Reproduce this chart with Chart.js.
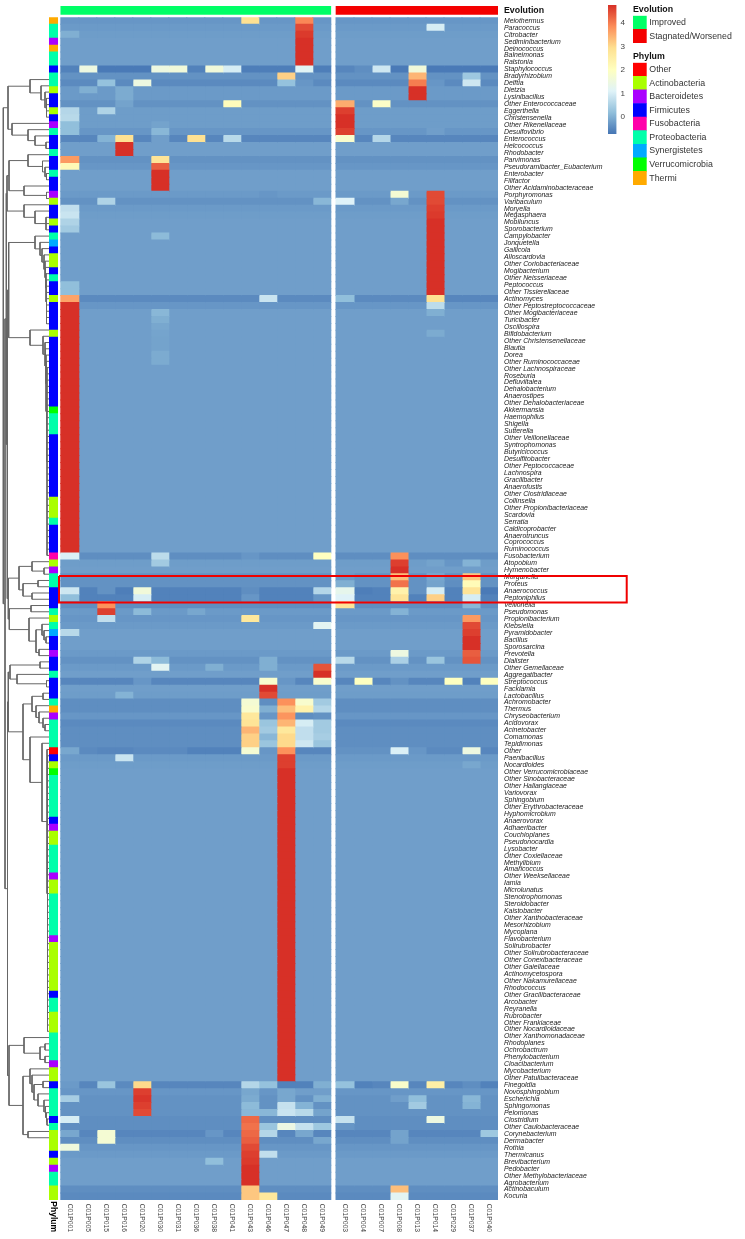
<!DOCTYPE html>
<html>
<head>
<meta charset="utf-8">
<title>Genus heatmap</title>
<script src="https://cdn.jsdelivr.net/npm/chart.js@4"></script>
<style>
  html, body { margin: 0; padding: 0; background: #fff; }
  canvas { position: absolute; display: block; }
</style>
</head>
<body>
<canvas id="main" width="745" height="1239" style="left:0;top:0"></canvas>
<canvas id="evolution" width="745" height="17" style="left:0;top:0"></canvas>
<canvas id="scale" width="48" height="145" style="left:596px;top:0"></canvas>
<canvas id="legend-evolution" width="112" height="39" style="left:633px;top:4px"></canvas>
<canvas id="legend-phylum" width="112" height="134" style="left:633px;top:51px"></canvas>
<script>
/* ---- Data ---- */
const samplesImproved = ['C01P001','C01P005','C01P015','C01P016','C01P020','C01P030','C01P031','C01P036','C01P038','C01P041','C01P043','C01P046','C01P047','C01P048','C01P049'];
const samplesWorsened = ['C01P003','C01P004','C01P007','C01P008','C01P013','C01P014','C01P029','C01P037','C01P040'];

const genera = [
  'Meiothermus','Paracoccus','Citrobacter','Sediminibacterium','Deinococcus','Balneimonas','Ralstonia','Staphylococcus','Bradyrhizobium','Delftia',
  'Dietzia','Lysinibacillus','Other Enterococcaceae','Eggerthella','Christensenella','Other Rikenellaceae','Desulfovibrio','Enterococcus','Helcococcus','Rhodobacter',
  'Parvimonas','Pseudoramibacter_Eubacterium','Enterobacter','Filifactor','Other Acidaminobacteraceae','Porphyromonas','Varibaculum','Moryella','Megasphaera','Mobiluncus',
  'Sporobacterium','Campylobacter','Jonquetella','Gallicola','Alloscardovia','Other Coriobacteriaceae','Mogibacterium','Other Neisseriaceae','Peptococcus','Other Tissierellaceae',
  'Actinomyces','Other Peptostreptococcaceae','Other Mogibacteriaceae','Turicibacter','Oscillospira','Bifidobacterium','Other Christensenellaceae','Blautia','Dorea','Other Ruminococcaceae',
  'Other Lachnospiraceae','Roseburia','Defluviitalea','Dehalobacterium','Anaerostipes','Other Dehalobacteriaceae','Akkermansia','Haemophilus','Shigella','Sutterella',
  'Other Veillonellaceae','Syntrophomonas','Butyricicoccus','Desulfitobacter','Other Peptococcaceae','Lachnospira','Gracilibacter','Anaerofustis','Other Clostridiaceae','Collinsella',
  'Other Propionibacteriaceae','Scardovia','Serratia','Caldicoprobacter','Anaerotruncus','Coprococcus','Ruminococcus','Fusobacterium','Atopobium','Hymenobacter',
  'Morganella','Proteus','Anaerococcus','Peptoniphilus','Veillonella','Pseudomonas','Propionibacterium','Klebsiella','Pyramidobacter','Bacillus',
  'Sporosarcina','Prevotella','Dialister','Other Gemellaceae','Aggregatibacter','Streptococcus','Facklamia','Lactobacillus','Achromobacter','Thermus',
  'Chryseobacterium','Acidovorax','Acinetobacter','Comamonas','Tepidimonas','Other','Paenibacillus','Nocardioides','Other Verrucomicrobiaceae','Other Sinobacteraceae',
  'Other Haliangiaceae','Variovorax','Sphingobium','Other Erythrobacteraceae','Hyphomicrobium','Anaerovorax','Adhaeribacter','Couchioplanes','Pseudonocardia','Lysobacter',
  'Other Coxiellaceae','Methylibium','Amaricoccus','Other Weeksellaceae','Iamia','Microlunatus','Stenotrophomonas','Steroidobacter','Kaistobacter','Other Xanthobacteraceae',
  'Mesorhizobium','Mycoplana','Flavobacterium','Solirubrobacter','Other Solirubrobacteraceae','Other Conexibacteraceae','Other Gaiellaceae','Actinomycetospora','Other Nakamurellaceae','Rhodococcus',
  'Other Gracilibacteraceae','Arcobacter','Reyranella','Rubrobacter','Other Frankiaceae','Other Nocardioidaceae','Other Xanthomonadaceae','Rhodoplanes','Ochrobactrum','Phenylobacterium',
  'Cloacibacterium','Mycobacterium','Other Patulibacteraceae','Finegoldia','Novosphingobium','Escherichia','Sphingomonas','Pelomonas','Clostridium','Other Caulobacteraceae',
  'Corynebacterium','Dermabacter','Rothia','Thermicanus','Brevibacterium','Pedobacter','Other Methylobacteriaceae','Agrobacterium','Actinobaculum','Kocuria',
];

// background z-score of each row
const rowBase = [
  -.3,-.25,-.22,-.2,-.2,-.2,-.2,-.6,-.35,-.45,
  -.25,-.25,-.35,-.22,-.22,-.22,-.3,-.5,-.2,-.2,
  -.35,-.3,-.2,-.2,-.2,-.25,-.35,-.25,-.22,-.2,
  -.2,-.2,-.2,-.2,-.2,-.2,-.2,-.2,-.2,-.2,
  -.45,-.3,-.2,-.2,-.2,-.2,-.2,-.2,-.2,-.2,
  -.2,-.2,-.2,-.2,-.2,-.2,-.2,-.2,-.2,-.2,
  -.2,-.2,-.2,-.2,-.2,-.2,-.2,-.2,-.2,-.2,
  -.2,-.2,-.2,-.2,-.2,-.2,-.2,-.4,-.22,-.2,
  -.35,-.35,-.55,-.55,-.4,-.25,-.3,-.25,-.2,-.2,
  -.2,-.25,-.35,-.25,-.2,-.5,-.2,-.22,-.4,-.4,
  -.3,-.45,-.4,-.4,-.4,-.45,-.25,-.22,-.2,-.2,
  -.2,-.2,-.2,-.2,-.2,-.2,-.2,-.2,-.2,-.2,
  -.2,-.2,-.2,-.2,-.2,-.2,-.2,-.2,-.2,-.2,
  -.2,-.2,-.2,-.2,-.2,-.2,-.2,-.2,-.2,-.2,
  -.2,-.2,-.2,-.2,-.2,-.2,-.2,-.2,-.2,-.2,
  -.2,-.2,-.2,-.5,-.3,-.35,-.35,-.35,-.4,-.4,
  -.5,-.4,-.3,-.25,-.2,-.2,-.2,-.2,-.4,-.45,
];

// blocks of rows that sit at the top of the scale: [first row, last row, column]
const saturatedBlocks = [
  [3,6,13],[10,11,19],[14,15,15],[18,19,3],[22,24,5],[29,39,20],[41,76,0],
  [79,79,18],[89,90,22],[94,94,14],[96,96,11],[108,152,12],[165,167,10],
];
const saturatedValue = 4.75;

// every other cell that differs from its row background: [row, column, value]
const cellValues = [
  [0,10,2.9],[0,13,3.9],[1,13,4.5],[1,20,1],[2,0,0],[2,13,4.65],
  [7,0,-.55],[7,1,1.5],[7,2,-.65],[7,3,-.65],[7,4,-.65],[7,5,1.5],[7,6,1.6],[7,7,-.55],[7,8,1.6],[7,9,1],[7,13,1.15],[7,15,-.5],[7,16,-.4],[7,17,.9],[7,18,-.65],[7,19,1.6],[7,20,-.65],[7,21,-.65],[7,22,-.65],[7,23,-.65],
  [8,12,3.1],[8,19,3.4],[8,22,.35],
  [9,2,.25],[9,4,1.5],[9,12,.25],[9,13,-.3],[9,19,4],[9,20,-.3],[9,22,.9],
  [10,1,0],[10,3,-.05],[11,3,-.05],[12,3,-.15],[12,9,2.1],[12,15,3.5],[12,17,1.9],
  [13,0,.6],[13,2,.55],[13,15,4.6],[14,0,.65],[15,0,.2],[15,5,-.15],
  [16,0,.2],[16,5,.1],[16,15,4.6],[16,20,-.2],
  [17,2,.05],[17,3,2.9],[17,5,-.2],[17,7,2.9],[17,9,.65],[17,15,1.8],[17,17,.6],
  [20,0,3.7],[20,5,2.8],[21,0,2.2],[21,5,4.3],
  [25,11,-.3],[25,18,1.7],[25,20,4.5],
  [26,2,.55],[26,14,.1],[26,15,1.1],[26,18,-.1],[26,20,4.5],
  [27,0,.75],[27,20,4.6],[28,0,.85],[28,20,4.65],[29,0,.55],[30,0,.4],[31,5,.15],[38,0,.2],[39,0,.2],
  [40,0,3.6],[40,11,.85],[40,15,.2],[40,20,2.9],[40,21,-.5],[40,22,-.5],[40,23,-.5],
  [41,20,.7],[42,5,.1],[42,20,0],[43,5,0],[44,5,-.1],[45,5,-.13],[45,20,-.05],[46,5,-.15],[47,5,-.15],[48,5,-.05],[49,5,-.05],
  [77,0,1.05],[77,5,.7],[77,10,-.3],[77,14,2],[77,18,3.8],
  [78,5,.4],[78,18,4.6],[78,20,-.15],[78,21,-.3],[78,22,.05],
  [80,15,-.25],[80,18,3.3],[80,20,-.1],[80,22,3.2],
  [81,15,0],[81,18,4.1],[81,20,-.15],[81,21,-.4],[81,22,2.15],
  [82,0,.9],[82,2,-.35],[82,3,-.6],[82,4,1.6],[82,10,-.4],[82,14,.6],[82,15,1.3],[82,16,-.6],[82,18,2.4],[82,19,-.35],[82,20,1],[82,22,2.8],[82,23,-.65],
  [83,0,.2],[83,4,1],[83,10,-.3],[83,14,-.3],[83,15,1.1],[83,18,2.8],[83,20,3.1],[83,22,1],
  [84,2,3.8],[84,15,2.8],[84,22,.1],
  [85,2,4.6],[85,4,.15],[85,7,-.1],[85,18,.05],
  [86,2,.75],[86,10,2.7],[86,22,3.7],[87,14,1.2],[87,22,4.5],[88,0,.65],[88,22,4.6],
  [91,18,1.5],[91,22,4.3],
  [92,4,.55],[92,5,.15],[92,11,0],[92,15,.65],[92,18,.5],[92,20,.3],[92,22,4.4],
  [93,5,1.2],[93,8,0],[93,11,0],[93,14,4.4],
  [95,4,-.3],[95,11,1.8],[95,12,-.3],[95,14,1.8],[95,16,2],[95,18,-.35],[95,21,2],[95,22,-.55],[95,23,2],
  [97,3,.05],[97,11,4.5],
  [98,10,1.7],[98,12,3.8],[98,13,1.8],[98,14,.4],
  [99,10,1.8],[99,11,0],[99,12,3.3],[99,13,2.4],[99,14,.6],
  [100,10,2.7],[100,12,3.75],[100,13,-.4],[100,14,-.35],
  [101,10,2.8],[101,11,.3],[101,12,3.4],[101,13,1],[101,14,.4],
  [102,10,3.4],[102,11,.4],[102,12,2.7],[102,13,.75],[102,14,.4],
  [103,10,3.1],[103,11,.1],[103,12,3],[103,13,.75],[103,14,.45],
  [104,10,3.1],[104,11,.3],[104,12,3],[104,13,.9],[104,14,.3],
  [105,0,-.1],[105,2,-.5],[105,3,-.5],[105,7,-.55],[105,8,-.55],[105,9,-.55],[105,10,1.7],[105,11,-.3],[105,12,3.8],[105,13,-.5],[105,14,-.5],[105,15,-.35],[105,16,-.35],[105,17,-.35],[105,18,1.05],[105,19,-.3],[105,22,1.5],[105,23,-.5],
  [106,3,.85],[106,12,4.6],[107,12,4.6],[107,22,-.1],
  [153,0,-.25],[153,2,.3],[153,3,-.45],[153,4,3],[153,10,.6],[153,11,.25],[153,12,-.55],[153,13,-.55],[153,14,0],[153,15,.25],[153,16,-.55],[153,18,1.85],[153,20,2.5],[153,22,-.4],[153,23,-.55],
  [154,4,4.6],[154,10,-.1],[154,12,-.1],[154,13,-.2],[154,14,-.2],
  [155,0,.45],[155,4,4.7],[155,10,-.05],[155,12,-.1],[155,14,0],[155,18,-.2],[155,19,.2],[155,22,.1],
  [156,4,4.6],[156,10,.15],[156,12,.8],[156,13,.05],[156,19,.4],[156,22,.05],
  [157,4,4.5],[157,10,.1],[157,11,.1],[157,12,.85],[157,13,.65],[157,14,-.15],
  [158,0,1],[158,10,4.2],[158,15,.8],[158,20,1.5],
  [159,10,4.1],[159,11,.3],[159,12,1.45],[159,13,.8],[159,14,.35],[159,15,-.3],
  [160,0,-.1],[160,2,1.7],[160,8,-.3],[160,10,4.2],[160,11,.6],[160,13,-.1],[160,18,-.15],[160,23,.35],
  [161,2,1.7],[161,10,4.3],[161,14,-.1],[161,18,-.15],
  [162,0,1.55],[162,10,4.5],[163,10,4.6],[163,11,.75],[164,8,.2],[164,10,4.65],
  [168,10,3.2],[168,18,3.3],[169,10,3.2],[169,11,2.7],[169,18,1.2],
];

const phylumNames = ['Other','Actinobacteria','Bacteroidetes','Firmicutes','Fusobacteria','Proteobacteria','Synergistetes','Verrucomicrobia','Thermi'];
const phylumColors = ['#ff0000','#aaff00','#aa00ff','#0000ff','#ff00aa','#00ffaa','#00aaff','#00ff00','#ffaa00'];
// phylum of the rows, top to bottom: [phylum, number of rows]
const phylumRuns = [
  ['Thermi',1],['Proteobacteria',2],['Bacteroidetes',1],['Thermi',1],['Proteobacteria',2],['Firmicutes',1],['Proteobacteria',2],['Actinobacteria',1],['Firmicutes',2],
  ['Actinobacteria',1],['Firmicutes',1],['Bacteroidetes',1],['Proteobacteria',1],['Firmicutes',2],['Proteobacteria',1],['Firmicutes',2],['Proteobacteria',1],['Firmicutes',2],
  ['Bacteroidetes',1],['Actinobacteria',1],['Firmicutes',2],['Actinobacteria',1],['Firmicutes',1],['Proteobacteria',1],['Synergistetes',1],['Firmicutes',1],['Actinobacteria',2],
  ['Firmicutes',1],['Proteobacteria',1],['Firmicutes',2],['Actinobacteria',1],['Firmicutes',4],['Actinobacteria',1],['Firmicutes',10],['Verrucomicrobia',1],['Proteobacteria',3],
  ['Firmicutes',9],['Actinobacteria',3],['Proteobacteria',1],['Firmicutes',4],['Fusobacteria',1],['Actinobacteria',1],['Bacteroidetes',1],['Proteobacteria',2],['Firmicutes',3],
  ['Proteobacteria',1],['Actinobacteria',1],['Proteobacteria',1],['Synergistetes',1],['Firmicutes',2],['Bacteroidetes',1],['Firmicutes',2],['Proteobacteria',1],['Firmicutes',3],
  ['Proteobacteria',1],['Thermi',1],['Bacteroidetes',1],['Proteobacteria',4],['Other',1],['Firmicutes',1],['Actinobacteria',1],['Verrucomicrobia',1],['Proteobacteria',6],
  ['Firmicutes',1],['Bacteroidetes',1],['Actinobacteria',2],['Proteobacteria',4],['Bacteroidetes',1],['Actinobacteria',2],['Proteobacteria',6],['Bacteroidetes',1],['Actinobacteria',7],
  ['Firmicutes',1],['Proteobacteria',2],['Actinobacteria',3],['Proteobacteria',4],['Bacteroidetes',1],['Actinobacteria',2],['Firmicutes',1],['Proteobacteria',4],['Firmicutes',1],
  ['Proteobacteria',1],['Actinobacteria',3],['Firmicutes',1],['Actinobacteria',1],['Bacteroidetes',1],['Proteobacteria',2],['Actinobacteria',2],
];

const evolutionNames = ['Improved','Stagnated/Worsened'];
const evolutionColors = ['#00ff66','#f40000'];

const colorStops = ['#4575b4','#91bfdb','#e0f3f8','#ffffbf','#fee090','#fc8d59','#d73027'];
const scaleRange = [-0.71, 4.75];
const scaleTicks = [0, 1, 2, 3, 4];

// row clustering: [height, ...children]; a child is a row, a 'from-to' comb of rows, or a subtree
const dendroTree = [44.7,
  [40, [18, 0, [7, 1, [3, 2, [1.5, '3-6']]]], [36, 7, [20, 8, [13, 9, [2, 10, 11]]]]],
  [43,
    [41.7,
      [41,
        [39, [20, 12, [5.5, 13, [3, 14, [1.5, 15, 16]]]], [24, 17, [1.5, 18, 19]]],
        [24, 20, [13, 21, [2, '22-24']]]],
      [40.7,
        [39.3,
          [13, 25, [8, 26, [6, 27, [4, 28, [3, 29, [2.5, 30, [2, 31, [1.5, '32-39']]]]]]]],
          [18, 40, [5, 41, [3, 42, [2.5, 43, [2, 44, [1.5, 45, [1, '46-76']]]]]]]],
        [39.7,
          [29, [16, 77, [4, 78, 79]], [25, [10, 80, 81], [16, 82, 83]]],
          [38.7, [17, 84, 85], [19, 86, [12, [6, 87, [4, 88, [2, 89, 90]]], [9, 91, 92]]]]]]],
    [40.5,
      [39.7,
        [38, [8, 93, 94], [31, 95, [1.5, 96, 97]]],
        [25,
          [16, [5, 98, 99], [12, 100, [9, 101, [5, 102, [3, 103, 104]]]]],
          [18, 105, [6, 106, [1, 107, [0.5, '108-152']]]]]],
      [39,
        [24, 153, [8, [3, 154, 155], [3, 156, 157]]],
        [25,
          [18, 158, [16, 159, [14, [5, 160, 161], [10, 162, [4, 163, [2.5, 164, [1.5, 165, [1, 166, 167]]]]]]]],
          [20, 168, 169]]]]],
];
const leafHeight = -1;

// red box round the highlighted rows; it runs past the sample columns into the labels
const highlightRows = [79.3, 83.5];
const highlightCols = [-0.1, 31.44];

/* ---- Helpers ---- */
const panelGap = 0.289;
const samples = [...samplesImproved, ...samplesWorsened];
const colStart = samples.map((s, i) => (i < samplesImproved.length ? i : i + panelGap));
const xMin = -3.378;
const xMax = samples.length + panelGap;
const phylumBar = [-0.628, -0.183];

function hexToRgb(h) {
  return [1, 3, 5].map((i) => parseInt(h.slice(i, i + 2), 16));
}
function colorFor(v) {
  const t = (Math.max(scaleRange[0], Math.min(scaleRange[1], v)) - scaleRange[0]) / (scaleRange[1] - scaleRange[0]);
  const p = t * (colorStops.length - 1);
  const i = Math.min(colorStops.length - 2, Math.floor(p));
  const a = hexToRgb(colorStops[i]), b = hexToRgb(colorStops[i + 1]);
  const rgb = a.map((c, k) => Math.round(c + (b[k] - c) * (p - i)));
  return `rgb(${rgb[0]},${rgb[1]},${rgb[2]})`;
}

// rows x columns table from the lists above
const matrix = rowBase.map((b) => samples.map(() => b));
saturatedBlocks.forEach(([from, to, col]) => { for (let r = from; r <= to; r++) matrix[r][col] = saturatedValue; });
cellValues.forEach(([r, c, v]) => { matrix[r][c] = v; });

const rowPhylum = phylumRuns.flatMap(([name, n]) => Array(n).fill(name));

/* ---- Dendrogram: walk the tree into line pieces, broken by empty points ---- */
const dendroPoints = [];
function piece(x1, y1, x2, y2) {
  dendroPoints.push({ x: x1, y: y1 }, { x: x2, y: y2 }, { x: null, y: null });
}
function walk(node) {
  if (typeof node === 'number') return { h: leafHeight, y: node };
  const [h, ...raw] = node;
  const kids = raw.flatMap((k) => {
    if (typeof k !== 'string') return [k];
    const [a, b] = k.split('-').map(Number);
    return Array.from({ length: b - a + 1 }, (_, i) => a + i);
  }).map(walk);
  kids.forEach((k) => piece(k.h, k.y, h, k.y));
  const top = kids[0].y, bottom = kids[kids.length - 1].y;
  piece(h, top, h, bottom);
  return { h, y: (top + bottom) / 2 };
}
walk(dendroTree);

/* ---- Main heatmap ---- */
const plotRight = 498;
const fixWidth = (w) => (s) => { s.width = w; s.paddingTop = 0; s.paddingBottom = 0; };
const fixHeight = (h) => (s) => { s.height = h; s.paddingLeft = 0; s.paddingRight = 0; };
const tickValues = [(phylumBar[0] + phylumBar[1]) / 2, ...colStart.map((s) => s + 0.5)];
const tickLabels = ['Phylum', ...samples];

const cellDatasets = samples.map((name, c) => ({
  label: name,
  data: genera.map(() => [colStart[c], colStart[c] + 1]),
  backgroundColor: genera.map((g, r) => colorFor(matrix[r][c])),
  xAxisID: 'x', yAxisID: 'y', order: 2,
}));
const phylumDataset = {
  label: 'Phylum',
  data: genera.map(() => phylumBar),
  backgroundColor: rowPhylum.map((p) => phylumColors[phylumNames.indexOf(p)]),
  xAxisID: 'x', yAxisID: 'y', order: 2,
};
const dendroDataset = {
  type: 'scatter', label: 'Rows', data: dendroPoints, indexAxis: 'x', showLine: true, spanGaps: false,
  borderColor: '#666666', borderWidth: 1, pointRadius: 0, clip: false,
  xAxisID: 'xd', yAxisID: 'yd', order: 1,
};
const highlightDataset = {
  type: 'scatter', label: 'Highlight', indexAxis: 'x', showLine: true, spanGaps: false,
  data: [
    { x: highlightCols[0], y: highlightRows[0] }, { x: highlightCols[1], y: highlightRows[0] },
    { x: highlightCols[1], y: highlightRows[1] }, { x: highlightCols[0], y: highlightRows[1] },
    { x: highlightCols[0], y: highlightRows[0] },
  ],
  borderColor: '#f00000', borderWidth: 2, pointRadius: 0, clip: false,
  xAxisID: 'x', yAxisID: 'yd', order: 0,
};

new Chart(document.getElementById('main'), {
  type: 'bar',
  data: { labels: genera, datasets: [...cellDatasets, phylumDataset, dendroDataset, highlightDataset] },
  options: {
    indexAxis: 'y', responsive: false, animation: false, events: [],
    grouped: false, barPercentage: 1, categoryPercentage: 1, borderWidth: 0, inflateAmount: 0.5,
    layout: { padding: { top: 17.3, left: 0, right: 0, bottom: 0 } },
    plugins: { legend: { display: false }, tooltip: { enabled: false } },
    scales: {
      x: {
        axis: 'x', type: 'linear', position: 'bottom', min: xMin, max: xMax,
        grid: { display: false, drawTicks: false }, border: { display: false },
        afterBuildTicks: (s) => { s.ticks = tickValues.map((value) => ({ value })); },
        afterFit: fixHeight(39),
        ticks: {
          autoSkip: false, minRotation: -90, maxRotation: -90, padding: 32,
          callback: (v, i) => tickLabels[i],
          color: (c) => (c.index === 0 ? '#000' : '#444'),
          font: (c) => (c.index === 0
            ? { family: 'Liberation Sans', size: 8.5, weight: 'bold' }
            : { family: 'Liberation Sans', size: 6.8 }),
        },
      },
      y: {
        axis: 'y', type: 'category', position: 'right',
        grid: { display: false, drawTicks: false }, border: { display: false },
        afterFit: fixWidth(745 - plotRight),
        ticks: {
          autoSkip: false, padding: 6, color: '#222',
          font: { family: 'Liberation Sans', size: 6.9, style: 'italic' },
        },
      },
      xd: { axis: 'x', type: 'linear', display: false, reverse: true, min: 48 - plotRight, max: 48 },
      yd: { axis: 'y', type: 'linear', display: false, reverse: true, min: -0.5, max: genera.length - 0.5 },
    },
  },
});

/* ---- Evolution strip above the heatmap ---- */
new Chart(document.getElementById('evolution'), {
  type: 'bar',
  data: {
    labels: ['Evolution'],
    datasets: [
      { label: evolutionNames[0], data: [[0, samplesImproved.length]], backgroundColor: evolutionColors[0] },
      { label: evolutionNames[1], data: [[samplesImproved.length + panelGap, xMax]], backgroundColor: evolutionColors[1] },
    ],
  },
  options: {
    indexAxis: 'y', responsive: false, animation: false, events: [],
    grouped: false, barPercentage: 1, categoryPercentage: 1,
    layout: { padding: { top: 6, bottom: 2.3 } },
    plugins: { legend: { display: false }, tooltip: { enabled: false } },
    scales: {
      x: { type: 'linear', display: false, min: xMin, max: xMax },
      y: {
        position: 'right', grid: { display: false, drawTicks: false }, border: { display: false },
        afterFit: fixWidth(745 - plotRight),
        ticks: { padding: 6, color: '#111', font: { family: 'Liberation Sans', size: 8.8, weight: 'bold' } },
      },
    },
  },
});

/* ---- Colour scale ---- */
function scaleGradient(ctx) {
  const { chart } = ctx;
  if (!chart.chartArea) return colorStops[0];
  const s = chart.scales.y;
  const g = chart.ctx.createLinearGradient(0, s.getPixelForValue(scaleRange[0]), 0, s.getPixelForValue(scaleRange[1]));
  colorStops.forEach((c, i) => g.addColorStop(i / (colorStops.length - 1), c));
  return g;
}
new Chart(document.getElementById('scale'), {
  type: 'bar',
  data: { labels: ['z'], datasets: [{ data: [scaleRange], backgroundColor: scaleGradient, barPercentage: 1, categoryPercentage: 1 }] },
  options: {
    responsive: false, animation: false, events: [],
    layout: { padding: { left: 12, top: 5, bottom: 11 } },
    plugins: { legend: { display: false }, tooltip: { enabled: false } },
    scales: {
      x: { display: false },
      y: {
        type: 'linear', position: 'right', min: scaleRange[0], max: scaleRange[1],
        grid: { display: false, drawTicks: false }, border: { display: false },
        afterBuildTicks: (s) => { s.ticks = scaleTicks.map((value) => ({ value })); },
        afterFit: fixWidth(27.5),
        ticks: { padding: 4, color: '#444', font: { family: 'Liberation Sans', size: 8.1 } },
      },
    },
  },
});

/* ---- Legends ---- */
function legendChart(id, title, names, colors) {
  return new Chart(document.getElementById(id), {
    type: 'bar',
    data: { labels: names, datasets: [{ data: names.map(() => 1), backgroundColor: colors, barPercentage: 1, categoryPercentage: 1 }] },
    options: {
      indexAxis: 'y', responsive: false, animation: false, events: [],
      plugins: {
        legend: { display: false }, tooltip: { enabled: false },
        title: {
          display: true, text: title, align: 'start', color: '#111',
          padding: { top: 0, bottom: 1.14 }, font: { family: 'Liberation Sans', size: 8.8, weight: 'bold' },
        },
      },
      scales: {
        x: { display: false, min: 0, max: 1 },
        y: {
          position: 'right', grid: { display: false, drawTicks: false }, border: { display: false },
          afterFit: fixWidth(112 - 13.7),
          ticks: { autoSkip: false, padding: 2.6, color: '#333', font: { family: 'Liberation Sans', size: 8.8 } },
        },
      },
    },
  });
}
legendChart('legend-evolution', 'Evolution', evolutionNames, evolutionColors);
legendChart('legend-phylum', 'Phylum', phylumNames, phylumColors);
</script>
</body>
</html>
